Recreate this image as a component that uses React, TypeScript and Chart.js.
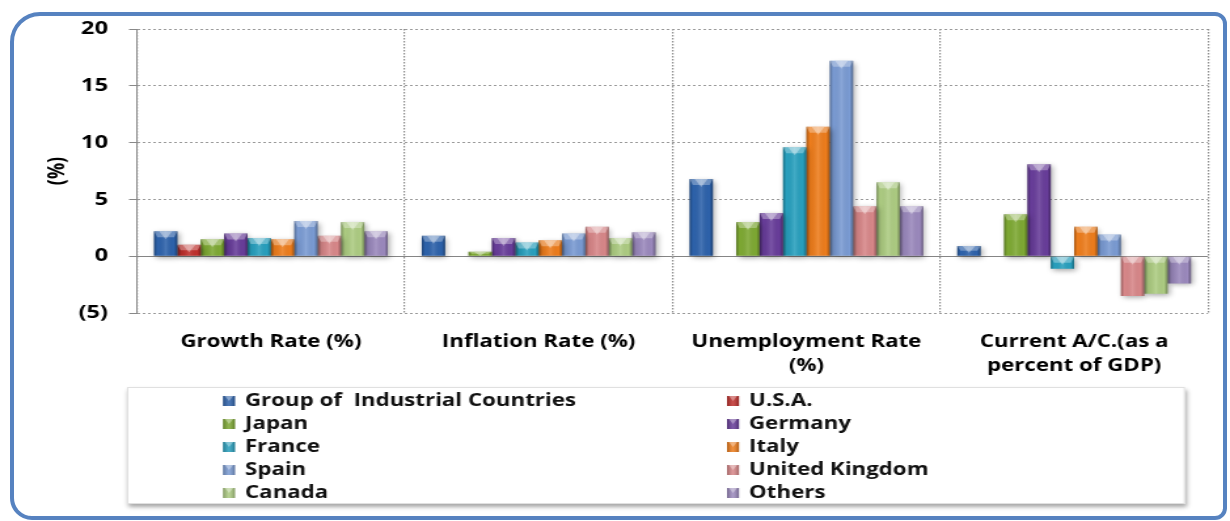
import React, { useEffect, useRef } from 'react';
import { Chart, registerables } from 'chart.js';

Chart.register(...registerables);

// ---------- data ----------
const categories: string[][] = [
  ['Growth Rate (%)'],
  ['Inflation Rate (%)'],
  ['Unemployment Rate', '(%)'],
  ['Current A/C.(as a', 'percent of GDP)'],
];
const seriesNames = [
  'Group of  Industrial Countries',
  'U.S.A.',
  'Japan',
  'Germany',
  'France',
  'Italy',
  'Spain',
  'United Kingdom',
  'Canada',
  'Others',
];
const groupValues = [2.2, 1.8, 6.8, 0.9];
const usaValues = [1.0, null, null, null];
const japanValues = [1.5, 0.4, 3.0, 3.7];
const germanyValues = [2.0, 1.6, 3.8, 8.1];
const franceValues = [1.6, 1.2, 9.6, -1.1];
const italyValues = [1.5, 1.4, 11.4, 2.6];
const spainValues = [3.1, 2.0, 17.2, 1.9];
const ukValues = [1.8, 2.6, 4.4, -3.5];
const canadaValues = [3.0, 1.6, 6.5, -3.3];
const othersValues = [2.2, 2.1, 4.4, -2.4];
const seriesValues = [
  groupValues, usaValues, japanValues, germanyValues, franceValues,
  italyValues, spainValues, ukValues, canadaValues, othersValues,
];
const seriesColors = [
  '#2d62ab', '#c0302d', '#7ea933', '#683d9a', '#28a0be',
  '#ee7d1c', '#7a9bd3', '#d88789', '#adcc82', '#9b89bd',
];
const yTickLabels = ['(5)', '0', '5', '10', '15', '20'];
const yAxisTitle = '(%)';

const FONT = '"Open Sans", "DejaVu Sans", sans-serif';

// The reference chart is horizontally stretched; draw on a narrower canvas
// and stretch it with CSS.
const SCREEN_W = 1230;
const SCREEN_H = 521;
const CANVAS_W = 939;
const S = SCREEN_W / CANVAS_W;
const sx = (v: number) => v / S;

// ---------- plugins ----------
const bevelPlugin = {
  id: 'bevel',
  beforeDatasetsDraw(chart: any) {
    const c = chart.ctx;
    c.save();
    c.shadowColor = 'rgba(0,0,0,0.35)';
    c.shadowBlur = 5;
    c.shadowOffsetX = 1.5;
    c.shadowOffsetY = 2;
  },
  afterDatasetsDraw(chart: any) {
    const c = chart.ctx;
    c.restore();
    chart.data.datasets.forEach((_ds: any, di: number) => {
      const meta = chart.getDatasetMeta(di);
      meta.data.forEach((el: any) => {
        const p = el.getProps(['x', 'y', 'base', 'width'], true);
        if (p.y == null || isNaN(p.y) || isNaN(p.base)) return;
        const l = p.x - p.width / 2;
        const r = p.x + p.width / 2;
        const t = Math.min(p.y, p.base);
        const b = Math.max(p.y, p.base);
        if (b - t < 0.5) return;
        const g = c.createLinearGradient(l, 0, r, 0);
        g.addColorStop(0, 'rgba(0,0,0,0.3)');
        g.addColorStop(0.15, 'rgba(0,0,0,0.0)');
        g.addColorStop(0.5, 'rgba(255,255,255,0.12)');
        g.addColorStop(0.85, 'rgba(0,0,0,0.0)');
        g.addColorStop(1, 'rgba(0,0,0,0.34)');
        c.save();
        c.fillStyle = g;
        c.fillRect(l, t, r - l, b - t);
        const h = Math.min(6, (b - t) / 2);
        c.fillStyle = 'rgba(255,255,255,0.3)';
        c.beginPath();
        c.moveTo(l, t);
        c.lineTo(r, t);
        c.lineTo(r - 2.5, t + h);
        c.lineTo(l + 2.5, t + h);
        c.closePath();
        c.fill();
        c.fillStyle = 'rgba(255,255,255,0.35)';
        c.beginPath();
        c.moveTo(l + p.width * 0.22, t);
        c.lineTo(r - p.width * 0.22, t);
        c.lineTo(p.x, t + h + 2);
        c.closePath();
        c.fill();
        c.restore();
      });
    });
  },
};

const extrasPlugin = {
  id: 'extras',
  afterDraw(chart: any) {
    const c = chart.ctx;
    // y axis title
    c.save();
    c.translate(sx(58), (chart.chartArea.top + chart.chartArea.bottom) / 2);
    c.rotate(-Math.PI / 2);
    c.font = `bold 18px ${FONT}`;
    c.fillStyle = '#000';
    c.textAlign = 'center';
    c.textBaseline = 'middle';
    c.fillText(yAxisTitle, 0, 0);
    c.restore();

    // legend box
    const bx = sx(127), by = 387, bw = sx(1058), bh = 117;
    c.save();
    c.shadowColor = 'rgba(0,0,0,0.35)';
    c.shadowBlur = 4;
    c.shadowOffsetX = 1.5;
    c.shadowOffsetY = 3;
    c.fillStyle = '#fff';
    c.fillRect(bx, by, bw, bh);
    c.restore();
    c.save();
    c.strokeStyle = '#e0e0e0';
    c.lineWidth = 1;
    c.strokeRect(bx + 0.5, by + 0.5, bw - 1, bh - 1);
    c.restore();

    const colX = [sx(223), sx(727)];
    const rowY0 = 401;
    const rowH = 23;
    const mw = sx(12);
    chart.data.datasets.forEach((ds: any, i: number) => {
      const col = i % 2;
      const row = Math.floor(i / 2);
      const x = colX[col];
      const y = rowY0 + row * rowH;
      c.save();
      c.fillStyle = ds.backgroundColor;
      c.fillRect(x, y - 5, mw, 10);
      const g = c.createLinearGradient(x, 0, x + mw, 0);
      g.addColorStop(0, 'rgba(0,0,0,0.25)');
      g.addColorStop(0.5, 'rgba(255,255,255,0.15)');
      g.addColorStop(1, 'rgba(0,0,0,0.25)');
      c.fillStyle = g;
      c.fillRect(x, y - 5, mw, 10);
      c.fillStyle = 'rgba(255,255,255,0.35)';
      c.beginPath();
      c.moveTo(x + mw * 0.15, y - 5);
      c.lineTo(x + mw * 0.85, y - 5);
      c.lineTo(x + mw / 2, y);
      c.closePath();
      c.fill();
      c.font = `bold 17px ${FONT}`;
      c.fillStyle = '#111';
      c.textAlign = 'left';
      c.textBaseline = 'middle';
      c.fillText(ds.label, x + sx(22), y);
      c.restore();
    });
  },
};

export default function App() {
  const ref = useRef<HTMLCanvasElement | null>(null);

  useEffect(() => {
    if (!ref.current) return;
    Chart.defaults.font.family = FONT;
    const chart = new Chart(ref.current, {
      type: 'bar',
      data: {
        labels: categories,
        datasets: seriesNames.map((name, i) => ({
          label: name,
          data: seriesValues[i],
          backgroundColor: seriesColors[i],
          borderWidth: 0,
          categoryPercentage: 0.873,
          barPercentage: 1,
        })),
      },
      options: {
        animation: false,
        responsive: false,
        devicePixelRatio: 1,
        layout: { padding: { left: 0, top: 29, right: sx(22), bottom: 134 } },
        plugins: {
          legend: { display: false },
          tooltip: { enabled: false },
          title: { display: false },
        },
        scales: {
          x: {
            grid: {
              offset: true,
              color: '#8c8c8c',
              lineWidth: 1.2,
              drawTicks: false,
            },
            border: { display: false, dash: [1.5, 1.5] },
            ticks: {
              color: '#000',
              padding: 17,
              maxRotation: 0,
              autoSkip: false,
              font: { size: 17, weight: 'bold', family: FONT, lineHeight: 1.4 },
            },
            afterFit: (s: any) => {
              s.height = 74;
            },
          },
          y: {
            min: -5,
            max: 20,
            ticks: {
              stepSize: 5,
              color: '#000',
              padding: sx(21),
              font: { size: 18, weight: 'bold', family: FONT },
              callback: (_v: any, i: number) => yTickLabels[i],
            },
            grid: {
              color: (ctx: any) => (ctx.tick && ctx.tick.value === 0 ? '#858585' : '#9a9a9a'),
              lineWidth: 1,
              tickColor: '#888',
              tickLength: sx(8),
              tickBorderDash: [],
            },
            border: {
              display: true,
              color: '#888',
              width: 1,
              dash: (ctx: any) => (ctx.tick && ctx.tick.value === 0 ? [] : [2, 2]),
            },
            afterFit: (s: any) => {
              s.width = sx(137);
            },
          },
        },
      } as any,
      plugins: [bevelPlugin, extrasPlugin],
    });
    return () => chart.destroy();
  }, []);

  return (
    <>
      <div
        style={{
          position: 'absolute',
          left: 10,
          top: 12,
          width: 1217,
          height: 508,
          boxSizing: 'border-box',
          border: '4px solid #5682c0',
          borderRadius: '30px 12px 12px 22px',
        }}
      />
      <canvas
        ref={ref}
        width={CANVAS_W}
        height={SCREEN_H}
        style={{ position: 'absolute', left: 0, top: 0, width: SCREEN_W, height: SCREEN_H }}
      />
    </>
  );
}
